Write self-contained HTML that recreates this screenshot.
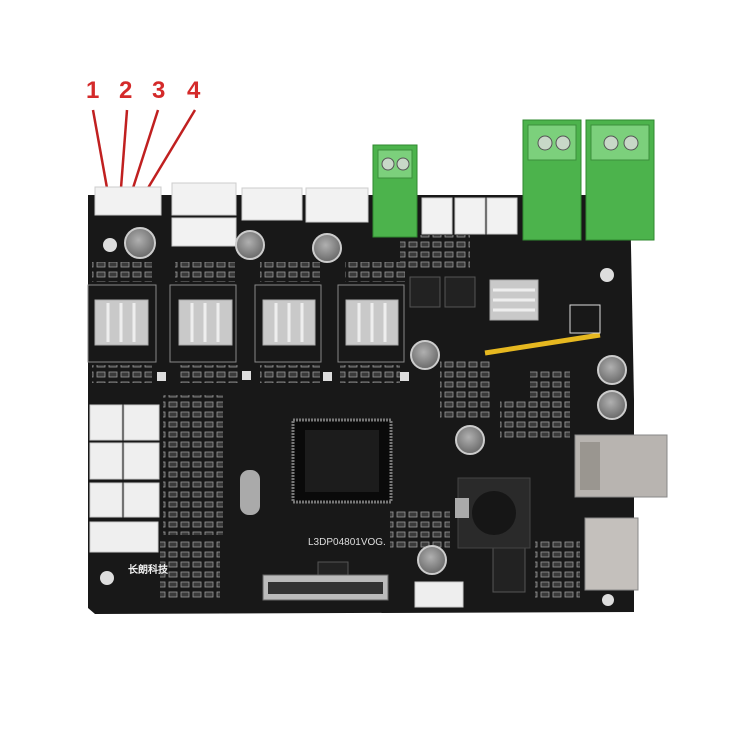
<!DOCTYPE html>
<html><head><style>
html,body{margin:0;padding:0;background:#fff;}
svg{display:block;}
text{font-family:"Liberation Sans",sans-serif;}
</style></head><body>
<svg width="750" height="750" viewBox="0 0 750 750" xmlns="http://www.w3.org/2000/svg">
<defs>
<pattern id="smd" width="12" height="10" patternUnits="userSpaceOnUse">
<rect x="1" y="2" width="8" height="5" fill="#3a3a3a" stroke="#999" stroke-width="0.8"/>
</pattern>
<radialGradient id="cap" cx="0.45" cy="0.4" r="0.6"><stop offset="0" stop-color="#b0b0b0"/><stop offset="1" stop-color="#6a6a6a"/></radialGradient>
</defs>
<rect width="750" height="750" fill="#fff"/>
<g fill="#d42a2a" font-weight="bold" font-size="24">
<text x="86" y="98">1</text><text x="119" y="98">2</text><text x="152" y="98">3</text><text x="187" y="98">4</text>
</g>
<g stroke="#c02020" stroke-width="2.5">
<line x1="93" y1="110" x2="107" y2="188"/><line x1="127" y1="110" x2="121" y2="188"/>
<line x1="158" y1="110" x2="133" y2="188"/><line x1="195" y1="110" x2="148" y2="188"/>
</g>
<path d="M88 195 L630 195 L634 400 L634 612 L95 614 L88 608 Z" fill="#181818"/>
<!-- smd areas -->
<g>
<rect x="92" y="262" width="60" height="20" fill="url(#smd)"/>
<rect x="175" y="262" width="60" height="20" fill="url(#smd)"/>
<rect x="260" y="262" width="60" height="20" fill="url(#smd)"/>
<rect x="345" y="262" width="60" height="20" fill="url(#smd)"/>
<rect x="92" y="365" width="60" height="18" fill="url(#smd)"/>
<rect x="178" y="365" width="60" height="18" fill="url(#smd)"/>
<rect x="260" y="365" width="60" height="18" fill="url(#smd)"/>
<rect x="340" y="365" width="60" height="18" fill="url(#smd)"/>
<rect x="163" y="395" width="60" height="140" fill="url(#smd)"/>
<rect x="440" y="360" width="50" height="60" fill="url(#smd)"/>
<rect x="530" y="370" width="40" height="60" fill="url(#smd)"/>
<rect x="400" y="235" width="70" height="35" fill="url(#smd)"/>
<rect x="160" y="540" width="60" height="60" fill="url(#smd)"/>
<rect x="390" y="510" width="60" height="40" fill="url(#smd)"/>
<rect x="535" y="540" width="45" height="60" fill="url(#smd)"/>
<rect x="500" y="400" width="70" height="40" fill="url(#smd)"/>
</g>
<g fill="#ddd"><circle cx="110" cy="245" r="7"/><circle cx="607" cy="275" r="7"/><circle cx="107" cy="578" r="7"/><circle cx="608" cy="600" r="6"/></g>
<g fill="#f2f2f2" stroke="#ccc">
<rect x="95" y="187" width="66" height="28"/>
<rect x="172" y="183" width="64" height="32"/><rect x="172" y="218" width="64" height="28"/>
<rect x="242" y="188" width="60" height="32"/><rect x="306" y="188" width="62" height="34"/>
<rect x="422" y="198" width="30" height="36"/><rect x="455" y="198" width="30" height="36"/><rect x="487" y="198" width="30" height="36"/>
</g>
<g fill="#4cb34c" stroke="#2f8a2f">
<rect x="373" y="145" width="44" height="92"/>
<rect x="523" y="120" width="58" height="120"/><rect x="586" y="120" width="68" height="120"/>
</g>
<g fill="#7cd07c" stroke="#3b8f3b">
<rect x="378" y="150" width="34" height="28"/><rect x="528" y="125" width="48" height="35"/><rect x="591" y="125" width="58" height="35"/>
</g>
<g fill="#c8d8c8" stroke="#555"><circle cx="388" cy="164" r="6"/><circle cx="403" cy="164" r="6"/>
<circle cx="545" cy="143" r="7"/><circle cx="563" cy="143" r="7"/><circle cx="611" cy="143" r="7"/><circle cx="631" cy="143" r="7"/></g>
<g fill="none" stroke="#888" stroke-width="1"><rect x="88" y="285" width="68" height="77"/><rect x="170" y="285" width="66" height="77"/><rect x="255" y="285" width="66" height="77"/><rect x="338" y="285" width="66" height="77"/></g>
<g fill="#c9c9c9" stroke="#aaa">
<rect x="95" y="300" width="53" height="45"/><rect x="179" y="300" width="53" height="45"/><rect x="263" y="300" width="52" height="45"/><rect x="346" y="300" width="52" height="45"/>
<rect x="490" y="280" width="48" height="40"/>
</g>
<g stroke="#eee" stroke-width="3">
<line x1="108" y1="303" x2="108" y2="342"/><line x1="121" y1="303" x2="121" y2="342"/><line x1="134" y1="303" x2="134" y2="342"/>
<line x1="192" y1="303" x2="192" y2="342"/><line x1="205" y1="303" x2="205" y2="342"/><line x1="218" y1="303" x2="218" y2="342"/>
<line x1="276" y1="303" x2="276" y2="342"/><line x1="289" y1="303" x2="289" y2="342"/><line x1="302" y1="303" x2="302" y2="342"/>
<line x1="359" y1="303" x2="359" y2="342"/><line x1="372" y1="303" x2="372" y2="342"/><line x1="385" y1="303" x2="385" y2="342"/>
<line x1="493" y1="290" x2="535" y2="290"/><line x1="493" y1="300" x2="535" y2="300"/><line x1="493" y1="310" x2="535" y2="310"/>
</g>
<g fill="url(#cap)" stroke="#ccc" stroke-width="2">
<circle cx="140" cy="243" r="15"/><circle cx="250" cy="245" r="14"/><circle cx="327" cy="248" r="14"/>
<circle cx="425" cy="355" r="14"/><circle cx="612" cy="370" r="14"/><circle cx="612" cy="405" r="14"/>
<circle cx="470" cy="440" r="14"/><circle cx="432" cy="560" r="14"/>
</g>
<g fill="#222" stroke="#555"><rect x="410" y="277" width="30" height="30"/><rect x="445" y="277" width="30" height="30"/><rect x="318" y="562" width="30" height="25"/><rect x="493" y="548" width="32" height="44"/></g>
<rect x="293" y="420" width="98" height="82" fill="#0a0a0a" stroke="#777" stroke-dasharray="2 1" stroke-width="3"/>
<rect x="305" y="430" width="74" height="62" fill="#1c1c1c"/>
<rect x="240" y="470" width="20" height="45" rx="9" fill="#aaa"/>
<rect x="458" y="478" width="72" height="70" fill="#2a2a2a" stroke="#444"/>
<circle cx="494" cy="513" r="22" fill="#161616"/>
<rect x="455" y="498" width="14" height="20" fill="#aaa"/>
<rect x="575" y="435" width="92" height="62" fill="#b8b4b0" stroke="#888"/>
<rect x="580" y="442" width="20" height="48" fill="#9a9690"/>
<rect x="585" y="518" width="53" height="72" fill="#c4c0bc" stroke="#888"/>
<path d="M485 353 L600 335" stroke="#e6b820" stroke-width="5" fill="none"/>
<g fill="#efefef" stroke="#ccc">
<rect x="90" y="405" width="32" height="35"/><rect x="124" y="405" width="35" height="35"/>
<rect x="90" y="443" width="32" height="36"/><rect x="124" y="443" width="35" height="36"/>
<rect x="90" y="483" width="32" height="34"/><rect x="124" y="483" width="35" height="34"/>
<rect x="90" y="522" width="68" height="30"/>
</g>
<rect x="263" y="575" width="125" height="25" fill="#bbb" stroke="#666"/>
<rect x="268" y="582" width="115" height="12" fill="#333"/>
<rect x="415" y="582" width="48" height="25" fill="#eee" stroke="#ccc"/>
<text x="308" y="545" fill="#ddd" font-size="10">L3DP04801VOG.</text>
<text x="128" y="573" fill="#eee" font-size="10" font-weight="bold" font-family="Liberation Sans, Noto Sans CJK SC, sans-serif">长朗科技</text>
<g fill="#ddd"><rect x="242" y="371" width="9" height="9"/><rect x="323" y="372" width="9" height="9"/><rect x="400" y="372" width="9" height="9"/><rect x="157" y="372" width="9" height="9"/>
<rect x="570" y="305" width="30" height="28" fill="none" stroke="#ddd"/></g>
</svg>
</body></html>
